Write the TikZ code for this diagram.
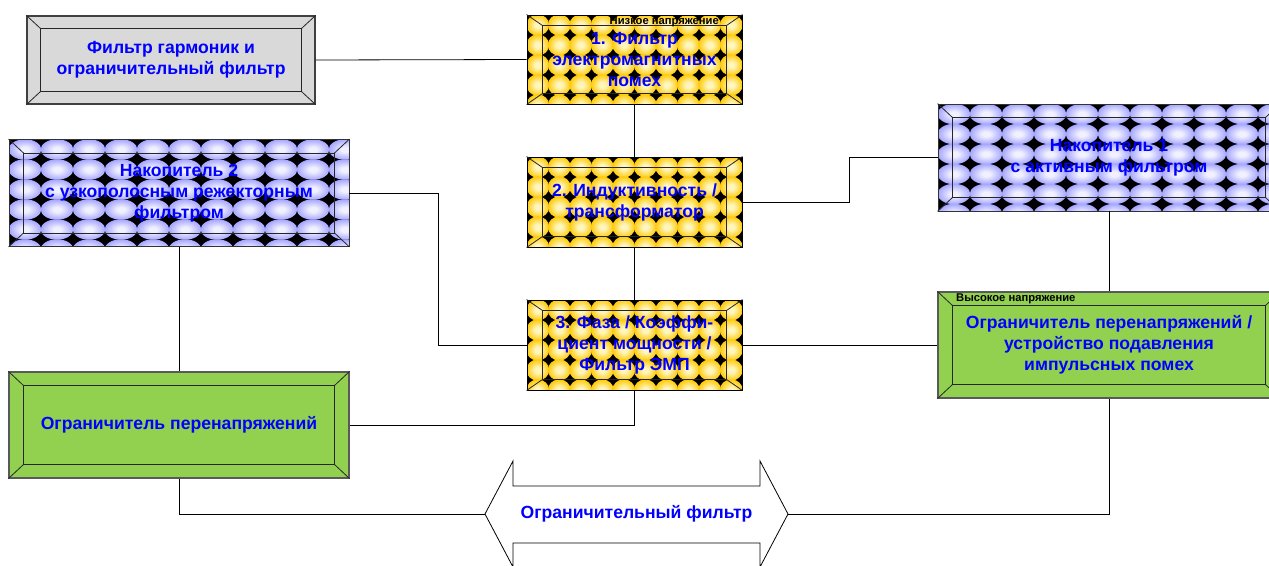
\documentclass[tikz,border=0pt]{standalone}
\usepackage{fontspec}
\setmainfont{Liberation Sans}
\usetikzlibrary{calc}
\definecolor{txtblue}{RGB}{0,0,255}
\definecolor{grayfill}{RGB}{217,217,217}
\definecolor{greenfill}{RGB}{146,208,80}
\definecolor{goldC}{RGB}{255,246,190}
\definecolor{goldM}{RGB}{255,200,0}
\definecolor{goldE}{RGB}{228,150,0}
\definecolor{blueC}{RGB}{240,240,255}
\definecolor{blueM}{RGB}{155,155,255}
\definecolor{blueE}{RGB}{122,122,238}
\pgfdeclareradialshading{goldball}{\pgfpoint{0bp}{0bp}}{color(0bp)=(goldC); color(6bp)=(goldC); color(26bp)=(goldM); color(46bp)=(goldE); color(72bp)=(goldE)}
\pgfdeclareradialshading{blueball}{\pgfpoint{0bp}{0bp}}{color(0bp)=(blueC); color(6bp)=(blueC); color(28bp)=(blueM); color(48bp)=(blueE); color(72bp)=(blueE)}
\newcommand\mypattern[6]{%
  \fill[black] (path picture bounding box.south west) rectangle (path picture bounding box.north east);
  \foreach \i in {0,...,#4}{\foreach \j in {0,...,#5}{
    \shade[shading=#1] ([xshift=\i*#2pt+0.5*#2pt, yshift=-\j*#3pt-0.5*#3pt]path picture bounding box.north west) ellipse [x radius=#6*#2pt, y radius=#6*#3pt];
  }}}
\newcommand\bevel[4]{%
  \draw[#4] ([xshift=#2pt,yshift=-#3pt]#1.north west) rectangle ([xshift=-#2pt,yshift=#3pt]#1.south east);
  \draw[#4] (#1.north west) -- ([xshift=#2pt,yshift=-#3pt]#1.north west);
  \draw[#4] (#1.north east) -- ([xshift=-#2pt,yshift=-#3pt]#1.north east);
  \draw[#4] (#1.south west) -- ([xshift=#2pt,yshift=#3pt]#1.south west);
  \draw[#4] (#1.south east) -- ([xshift=-#2pt,yshift=#3pt]#1.south east);}
\tikzset{
  box/.style={rectangle, inner sep=0pt, align=center, text=txtblue,
    font=\bfseries\fontsize{17.6}{21}\selectfont},
  goldbox/.style={box, draw=black, line width=0.9pt, minimum width=215pt, minimum height=89pt,
    path picture={\mypattern{goldball}{21.5}{20}{10}{5}{0.53}}},
  bluebox/.style={box, draw=black!80, line width=0.9pt, minimum height=107pt,
    path picture={\mypattern{blueball}{32}{20}{11}{6}{0.51}}},
  greenbox/.style={box, fill=greenfill, draw=black!65, line width=1.2pt, minimum width=340pt, minimum height=106pt},
  small/.style={font=\bfseries\fontsize{11.2}{13}\selectfont, text=black, inner sep=0pt},
  conn/.style={draw=black, line width=0.8pt},
  bev/.style={draw=black!85, line width=0.8pt}
}
\begin{document}
\begin{tikzpicture}[x=1pt,y=-1pt]
\useasboundingbox (0,0) rectangle (1269,565);
% boxes
\node[box, fill=grayfill, draw=black!75, line width=1.2pt, minimum width=288pt, minimum height=88pt] (A) at (171,60) {Фильтр гармоник и\\ограничительный фильтр};
\node[goldbox] (F1) at (634.5,59.5) {};
\node[goldbox, minimum height=90pt] (F2) at (634.5,202) {};
\node[goldbox, minimum height=90pt] (F3) at (634.5,345) {};
\node[bluebox, minimum width=340pt] (N2) at (179,193) {};
\node[bluebox, minimum width=342pt] (N1) at (1109,157.5) {};
\node[greenbox, minimum width=342pt] (OHV) at (1109,345) {};
\node[greenbox] (OP) at (179,425) {};
% bevels
\bevel{A}{14}{13}{bev}
\bevel{F1}{16}{11}{bev}
\bevel{F2}{16}{11}{bev}
\bevel{F3}{16}{11}{bev}
\bevel{N2}{15}{14}{bev}
\bevel{N1}{15}{14}{bev}
\bevel{OHV}{15}{14}{bev}
\bevel{OP}{15}{14}{bev}
% texts over bevel lines
\node[box] (F1t) at (F1) {1. Фильтр\\электромагнитных\\помех};
\node[box] (F2t) at (F2) {2. Индуктивность /\\трансформатор};
\node[box] (F3t) at (F3) {3. Фаза / Коэффи-\\циент мощности /\\Фильтр ЭМП};
\node[box] (N2t) at (N2) {Накопитель 2\\с узкополосным режекторным\\фильтром};
\node[box] (N1t) at (N1) {Накопитель 1\\с активным фильтром};
\node[box] (OHVt) at (OHV) {Ограничитель перенапряжений /\\устройство подавления\\импульсных помех};
\node[box] (OPt) at (OP) {Ограничитель перенапряжений};
% small labels
\node[small, anchor=east] (lowV) at (719,22) {Низкое напряжение};
\node[small, anchor=west] (highV) at (956,299) {Высокое напряжение};
% double arrow
\coordinate (arL) at (485,514);
\coordinate (arR) at (788,514);
\draw[fill=white, line width=0.8pt] (arL) -- ++(28,-53) -- ++(0,25) -- ++(247,0) -- ++(0,-25) -- (arR) -- ++(-28,53) -- ++(0,-24) -- ++(-247,0) -- ++(0,24) -- cycle;
\node[box] (AR) at (636.5,514) {Ограничительный фильтр};
% connectors
\draw[conn] (A.east) -- (F1.west);
\draw[conn] (F1.south) -- (F2.north);
\draw[conn] (F2.south) -- (F3.north);
\draw[conn] (F2.east) -- ++(107,0) |- (N1.west);
\draw[conn] (N2.east) -- ++(89,0) |- (F3.west);
\draw[conn] (N2.south) -- (OP.north);
\draw[conn] (F3.east) -- (OHV.west);
\draw[conn] (OP.east) -| (F3.south);
\draw[conn] (N1.south) -- (OHV.north);
\draw[conn] (OP.south) |- (arL);
\draw[conn] (OHV.south) |- (arR);
\end{tikzpicture}
\end{document}
